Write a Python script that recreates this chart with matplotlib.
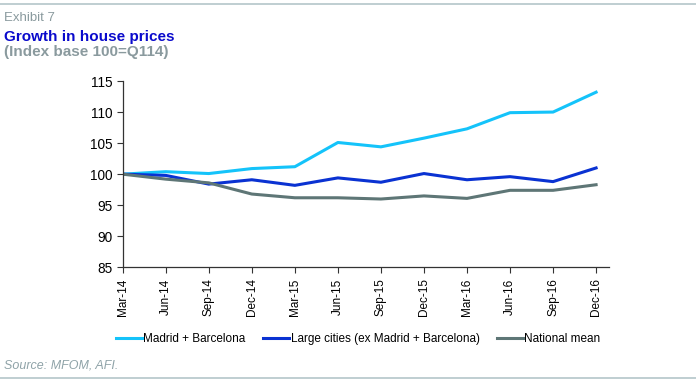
import numpy as np
import matplotlib.pyplot as plt
from matplotlib.lines import Line2D

plt.rcParams['font.family'] = ['Liberation Sans', 'DejaVu Sans']

# Quarters
quarters = ['Mar-14', 'Jun-14', 'Sep-14', 'Dec-14', 'Mar-15', 'Jun-15',
            'Sep-15', 'Dec-15', 'Mar-16', 'Jun-16', 'Sep-16', 'Dec-16']

# Index values (base 100 = Q1 2014)
madrid_bcn = [100, 100.4, 100.1, 100.9, 101.2, 105.1,
              104.4, 105.8, 107.3, 109.9, 110.0, 113.2]
large_cities = [100, 99.8, 98.4, 99.1, 98.2, 99.4,
                98.7, 100.1, 99.1, 99.6, 98.8, 101.0]
national = [100, 99.2, 98.6, 96.8, 96.2, 96.2,
            96.0, 96.5, 96.1, 97.4, 97.4, 98.3]

c_light = '#14C3FA'
c_blue = '#0A32D2'
c_grey = '#5E7676'

fig = plt.figure(figsize=(6.96, 3.83), dpi=100)
ax = fig.add_axes([0.1763, 0.302, 0.6987, 0.4865])

x = np.arange(len(quarters))
ax.plot(x, madrid_bcn, color=c_light, lw=2.2, label='Madrid + Barcelona')
ax.plot(x, large_cities, color=c_blue, lw=2.2, label='Large cities (ex Madrid + Barcelona)')
ax.plot(x, national, color=c_grey, lw=2.2, label='National mean')

ax.set_xlim(0, 11.3)
ax.set_ylim(85, 115)
ax.set_yticks(range(85, 116, 5))
ax.set_xticks(x)
ax.set_xticklabels(quarters, rotation=90, fontsize=8.5)
ax.tick_params(axis='y', labelsize=9.8, length=4, width=0.8, color='#333333', pad=3)
ax.tick_params(axis='x', length=4, width=0.8, color='#333333', pad=4)
for s in ['top', 'right']:
    ax.spines[s].set_visible(False)
for s in ['left', 'bottom']:
    ax.spines[s].set_color('#333333')
    ax.spines[s].set_linewidth(0.9)

ax.legend(loc='center', bbox_to_anchor=(0.515, 0.115), bbox_transform=fig.transFigure,
          ncol=3, frameon=False, fontsize=8.5, handlelength=2.2, handletextpad=0.1,
          columnspacing=1.5)

# header / footer
fig.add_artist(Line2D([0.0, 1.0], [0.99, 0.99], color='#B4C6CA', lw=1.2))
fig.add_artist(Line2D([0.0, 1.0], [0.013, 0.013], color='#B4C6CA', lw=1.2))
fig.text(0.006, 0.953, 'Exhibit 7', fontsize=9.5, color='#8A9A9E', va='center')
fig.text(0.006, 0.903, 'Growth in house prices', fontsize=11, color='#0A0ACC',
         fontweight='bold', va='center')
fig.text(0.006, 0.864, '(Index base 100=Q114)', fontsize=11, color='#8A9A9E',
         fontweight='bold', va='center')
fig.text(0.006, 0.045, 'Source: MFOM, AFI.', fontsize=9, color='#8FA3A8',
         style='italic', va='center')

fig.savefig('out.png', dpi=100)
